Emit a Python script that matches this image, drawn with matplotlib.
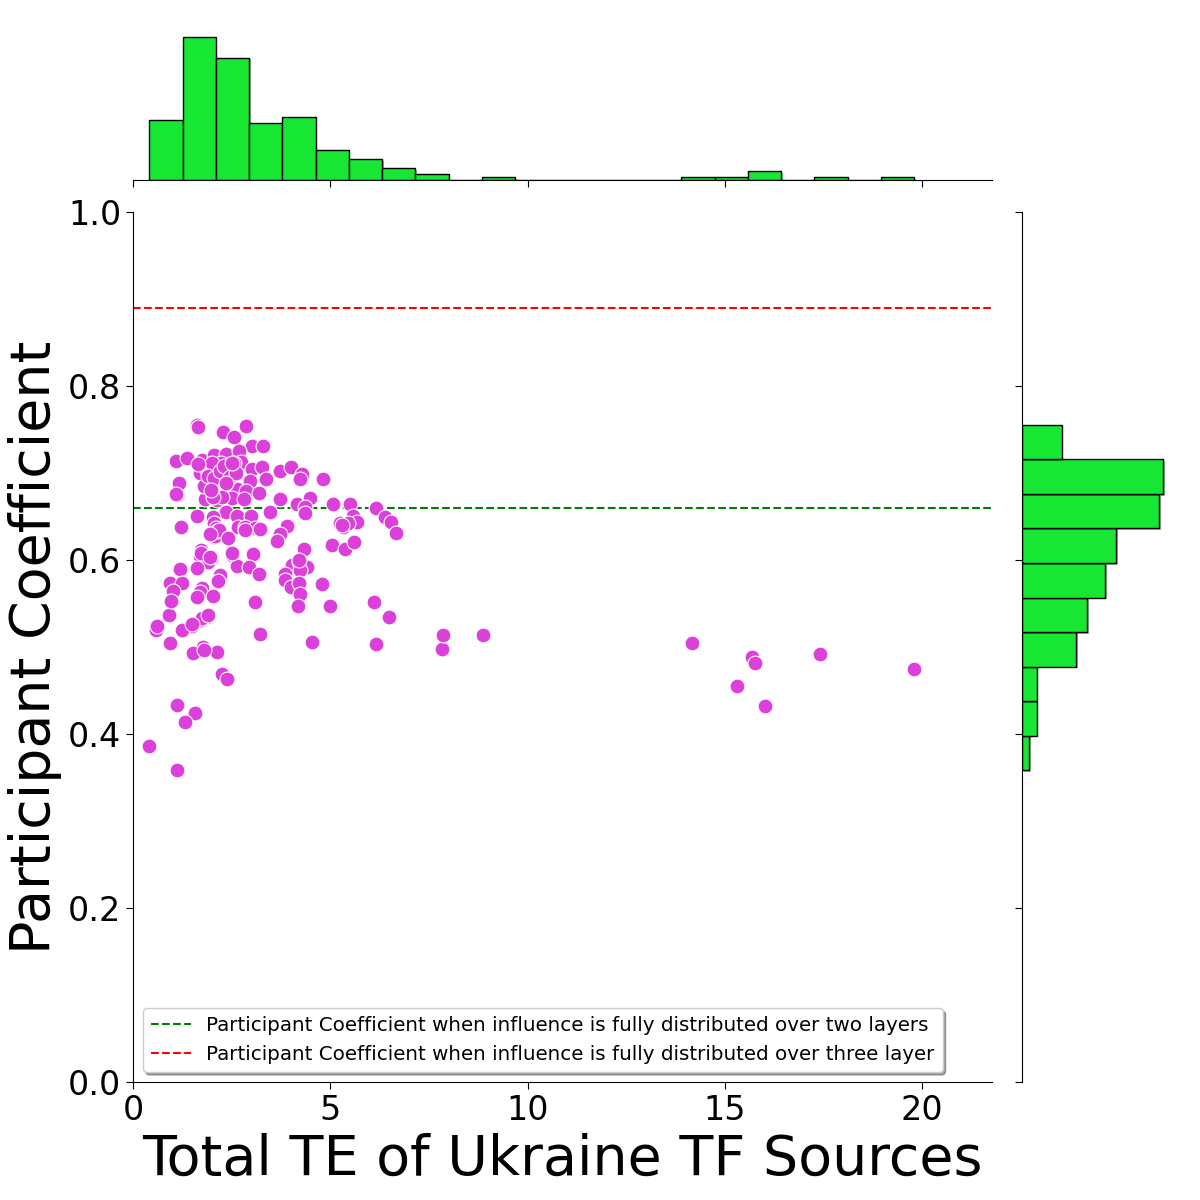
import matplotlib
matplotlib.use("Agg")
import matplotlib.pyplot as plt
import matplotlib.patheffects as pe

# Total TE of Ukraine TF sources (x) and participant coefficient (y), one entry per node
te_total = [
    1.615, 1.648, 2.872, 2.274, 2.568, 3.009, 3.303, 1.098, 1.376, 1.757,
    2.061, 2.365, 2.695, 2.738, 2.560, 2.223, 2.003, 2.061, 2.408, 3.024,
    3.270, 3.379, 2.958, 1.919, 2.155, 1.174, 1.123, 1.909, 2.357, 2.644,
    2.872, 3.186, 1.818, 2.122, 2.517, 2.814, 2.248, 2.365, 1.630, 2.035,
    2.053, 2.644, 2.984, 3.473, 1.224, 2.662, 2.831, 3.085, 3.212, 2.112,
    3.734, 4.013, 4.284, 4.241, 4.816, 3.719, 4.494, 4.165, 4.352, 4.368,
    5.070, 5.508, 6.167, 6.380, 6.532, 6.659, 5.577, 5.686, 5.255, 5.323,
    5.450, 3.911, 3.719,
    2.061, 1.731, 1.698, 1.970, 1.901, 1.630, 1.199, 2.517, 3.049, 2.644,
    2.930, 3.186, 2.213, 2.155, 0.946, 1.240, 1.014, 1.757, 1.691, 1.630,
    2.028, 0.971, 3.093, 0.913, 1.883, 1.731, 1.503, 1.240, 0.616, 0.591,
    3.227, 0.946, 1.782, 2.129, 1.529,
    3.658, 4.342, 5.052, 5.366, 5.594, 4.038, 4.208, 4.411, 4.241, 3.845,
    3.845, 3.997, 4.208, 4.241, 4.798, 4.190, 5.001, 6.117, 6.497, 4.545,
    6.167,
    2.264, 2.390, 1.123, 1.579, 1.326, 0.413, 1.123,
    7.833, 7.858, 8.872, 14.18, 15.32, 15.70, 15.76, 16.03, 17.42, 19.80,
    0.60, 1.10, 0.96, 4.20, 5.30, 1.79, 1.75, 1.89, 1.50, 1.72,
    1.96, 2.07, 2.52, 2.14, 2.84, 2.18, 1.95, 2.04, 2.40, 1.70,
    1.85, 1.95, 2.00, 1.80, 1.90, 2.05, 1.66, 1.98, 2.20, 2.30,
    2.45, 2.60, 2.35, 2.50,
]

part_coef = [
    0.7555, 0.7525, 0.7544, 0.7468, 0.7417, 0.7310, 0.7310, 0.7138, 0.7169, 0.7150,
    0.7207, 0.7218, 0.7256, 0.7130, 0.7111, 0.7111, 0.7080, 0.7034, 0.7034, 0.7043,
    0.7072, 0.6931, 0.6908, 0.6939, 0.6928, 0.6882, 0.6747, 0.6793, 0.6759, 0.6813,
    0.6797, 0.6767, 0.6698, 0.6690, 0.6709, 0.6698, 0.6721, 0.6555, 0.6506, 0.6491,
    0.6429, 0.6506, 0.6506, 0.6555, 0.6383, 0.6383, 0.6376, 0.6364, 0.6353, 0.6364,
    0.7023, 0.7066, 0.6989, 0.6928, 0.6928, 0.6701, 0.6709, 0.6640, 0.6613, 0.6544,
    0.6640, 0.6640, 0.6594, 0.6498, 0.6440, 0.6314, 0.6509, 0.6440, 0.6429, 0.6383,
    0.6422, 0.6391, 0.6295,
    0.6261, 0.6115, 0.6046, 0.6008, 0.5980, 0.5905, 0.5893, 0.6057, 0.6069, 0.5931,
    0.5916, 0.5836, 0.5828, 0.5759, 0.5739, 0.5732, 0.5644, 0.5682, 0.5636, 0.5570,
    0.5590, 0.5521, 0.5514, 0.5368, 0.5341, 0.5310, 0.5245, 0.5195, 0.5222, 0.5195,
    0.5146, 0.5049, 0.5003, 0.4946, 0.4928,
    0.6218, 0.6123, 0.6172, 0.6123, 0.6203, 0.5943, 0.5975, 0.5916, 0.5885, 0.5839,
    0.5770, 0.5693, 0.5739, 0.5606, 0.5721, 0.5471, 0.5471, 0.5514, 0.5341, 0.5054,
    0.5031,
    0.4690, 0.4632, 0.4333, 0.4238, 0.4134, 0.3859, 0.3583,
    0.4977, 0.5138, 0.5138, 0.5043, 0.4552, 0.4882, 0.4813, 0.4318, 0.4920, 0.4744,
    0.524, 0.676, 0.553, 0.600, 0.640, 0.497, 0.533, 0.537, 0.527, 0.608,
    0.603, 0.628, 0.608, 0.633, 0.635, 0.634, 0.630, 0.672, 0.625, 0.700,
    0.706, 0.690, 0.712, 0.685, 0.697, 0.694, 0.710, 0.681, 0.702, 0.708,
    0.695, 0.700, 0.688, 0.712,
]

# reference levels
pc_two_layers = 0.66
pc_three_layers = 0.89
label_two = "Participant Coefficient when influence is fully distributed over two layers"
label_three = "Participant Coefficient when influence is fully distributed over three layer"

POINT_COLOR = "#DB40DB"
HIST_COLOR = "#17E633"

fig = plt.figure(figsize=(12, 12), dpi=100)
ax = fig.add_axes([0.1108, 0.0983, 0.7158, 0.725])
ax_top = fig.add_axes([0.1108, 0.85, 0.7158, 0.15], sharex=ax)
ax_right = fig.add_axes([0.8517, 0.0983, 0.1483, 0.725], sharey=ax)

# main scatter
ax.scatter(te_total, part_coef, s=115, color=POINT_COLOR, edgecolor="white", linewidth=0.8, zorder=3)
ax.axhline(pc_two_layers, color="green", linestyle="--", linewidth=1.5, label=label_two)
ax.axhline(pc_three_layers, color="red", linestyle="--", linewidth=1.5, label=label_three)

ax.set_xlim(0, 21.77)
ax.set_ylim(0, 1.0)
ax.set_xticks([0, 5, 10, 15, 20])
ax.set_yticks([0.0, 0.2, 0.4, 0.6, 0.8, 1.0])
ax.tick_params(labelsize=24, length=5)
ax.set_xlabel("Total TE of Ukraine TF Sources", fontsize=40)
ax.set_ylabel("Participant Coefficient", fontsize=40)
for side in ["top", "right"]:
    ax.spines[side].set_visible(False)
ax.legend(loc="lower left", fontsize=14.3, shadow=True, fancybox=True, framealpha=1)

# marginal histograms
shadow = [pe.SimplePatchShadow(offset=(1.2, -1.2), alpha=0.4), pe.Normal()]
_, _, bars_x = ax_top.hist(te_total, bins=23, color=HIST_COLOR, edgecolor="black", linewidth=1)
_, _, bars_y = ax_right.hist(part_coef, bins=10, orientation="horizontal",
                             color=HIST_COLOR, edgecolor="black", linewidth=1)
for b in list(bars_x) + list(bars_y):
    b.set_path_effects(shadow)

ax_top.set_ylim(0, 60.4)
ax_right.set_xlim(0, 49.2)

for side in ["top", "right", "left"]:
    ax_top.spines[side].set_visible(False)
ax_top.tick_params(axis="x", labelbottom=False, length=5)
ax_top.tick_params(axis="y", left=False, labelleft=False)

for side in ["top", "right", "bottom"]:
    ax_right.spines[side].set_visible(False)
ax_right.tick_params(axis="y", labelleft=False, length=5)
ax_right.tick_params(axis="x", bottom=False, labelbottom=False)

fig.savefig("out.png", dpi=100)
